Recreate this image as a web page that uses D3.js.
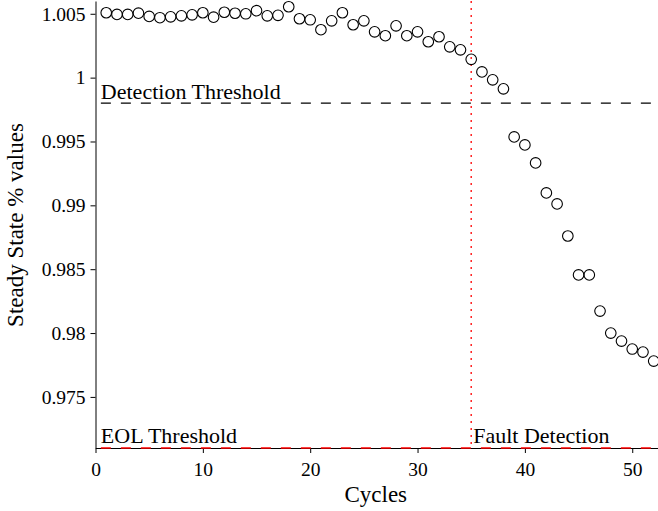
<!DOCTYPE html>
<html>
<head>
<meta charset="utf-8">
<script src="https://cdn.jsdelivr.net/npm/d3@7"></script>
<style>
  body { margin: 0; background: #fff; }
  svg { display: block; }
  .axis path, .axis line { stroke: #000; stroke-width: 1; }
  .axis text { font-family: "Liberation Serif", "DejaVu Serif", serif; }
  .label { font-family: "Liberation Serif", "DejaVu Serif", serif; font-size: 22px; fill: #000; }
</style>
</head>
<body>
<div class="chart"></div>
<script>
// Steady state values per cycle
const cycles = d3.range(1, 53);
const steadyState = [
  1.00508, 1.00495, 1.00495, 1.00505, 1.00479, 1.00469, 1.00476, 1.00484, 1.00492, 1.00508,
  1.00473, 1.00512, 1.00504, 1.00500, 1.00524, 1.00484, 1.00488, 1.00555, 1.00461, 1.00453,
  1.00375, 1.00445, 1.00508, 1.00414, 1.00445, 1.00359, 1.00328, 1.00406, 1.00328, 1.00359,
  1.00281, 1.00320, 1.00241, 1.00218, 1.00143, 1.00045, 0.99983, 0.99912, 0.99536, 0.99473,
  0.99332, 0.99097, 0.99011, 0.98760, 0.98455, 0.98455, 0.98172, 0.98000, 0.97937, 0.97875,
  0.97851, 0.97781
];
const xTicks = [0, 10, 20, 30, 40, 50];
const yTicks = [0.975, 0.98, 0.985, 0.99, 0.995, 1, 1.005];
const detectionThreshold = 0.998;
const eolThreshold = 0.971;
const faultCycle = 35;

const width = 658, height = 511;
const margin = {top: 1, right: 0, bottom: 63, left: 95.5};

const svg = d3.select('.chart').append('svg')
  .attr('width', width)
  .attr('height', height);

const x = d3.scaleLinear()
  .domain([0, 52.4])
  .range([margin.left, width - margin.right]);

const y = d3.scaleLinear()
  .domain([0.971, 1.006])
  .range([height - margin.bottom, margin.top]);

// Axes
svg.append('g')
  .attr('class', 'axis')
  .attr('transform', 'translate(0,' + (height - margin.bottom) + ')')
  .call(d3.axisBottom(x).tickValues(xTicks).tickSize(5).tickPadding(9).tickSizeOuter(0).tickFormat(d3.format('d')))
  .attr('font-size', 19.5);

svg.append('g')
  .attr('class', 'axis')
  .attr('transform', 'translate(' + margin.left + ',0)')
  .call(d3.axisLeft(y).tickValues(yTicks).tickSize(5).tickPadding(5).tickSizeOuter(0).tickFormat(d => String(+d.toFixed(3))))
  .attr('font-size', 19.5);

// Threshold lines
svg.append('line')
  .attr('x1', x(0.5)).attr('x2', x(52.4))
  .attr('y1', y(detectionThreshold)).attr('y2', y(detectionThreshold))
  .attr('stroke', '#000').attr('stroke-width', 1.2)
  .attr('stroke-dasharray', '10,10');

svg.append('line')
  .attr('x1', x(0.5)).attr('x2', x(52.4))
  .attr('y1', y(eolThreshold)).attr('y2', y(eolThreshold))
  .attr('stroke', '#ff0000').attr('stroke-width', 1.5)
  .attr('stroke-dasharray', '10,10');

svg.append('line')
  .attr('x1', x(faultCycle)).attr('x2', x(faultCycle))
  .attr('y1', y(1.006)).attr('y2', y(eolThreshold))
  .attr('stroke', '#ff2020').attr('stroke-width', 1.5)
  .attr('stroke-dasharray', '2,5');

// Labels
svg.append('text').attr('class', 'label')
  .attr('x', x(0.5)).attr('y', y(detectionThreshold) - 4)
  .text('Detection Threshold');

svg.append('text').attr('class', 'label')
  .attr('x', x(0.5)).attr('y', y(eolThreshold) - 5)
  .text('EOL Threshold');

svg.append('text').attr('class', 'label')
  .attr('x', x(faultCycle) + 2).attr('y', y(eolThreshold) - 5)
  .text('Fault Detection');

svg.append('text').attr('class', 'label')
  .attr('x', (margin.left + width) / 2 - 1).attr('y', 502)
  .attr('text-anchor', 'middle')
  .style('font-size', '23px')
  .text('Cycles');

svg.append('text').attr('class', 'label')
  .attr('transform', 'translate(23,' + 225 + ') rotate(-90)')
  .attr('text-anchor', 'middle')
  .style('font-size', '23px')
  .text('Steady State % values');

// Points
svg.selectAll('circle')
  .data(cycles)
  .enter().append('circle')
  .attr('cx', d => x(d))
  .attr('cy', (d, i) => y(steadyState[i]))
  .attr('r', 5.3)
  .attr('fill', 'none')
  .attr('stroke', '#000')
  .attr('stroke-width', 1.1);
</script>
</body>
</html>
